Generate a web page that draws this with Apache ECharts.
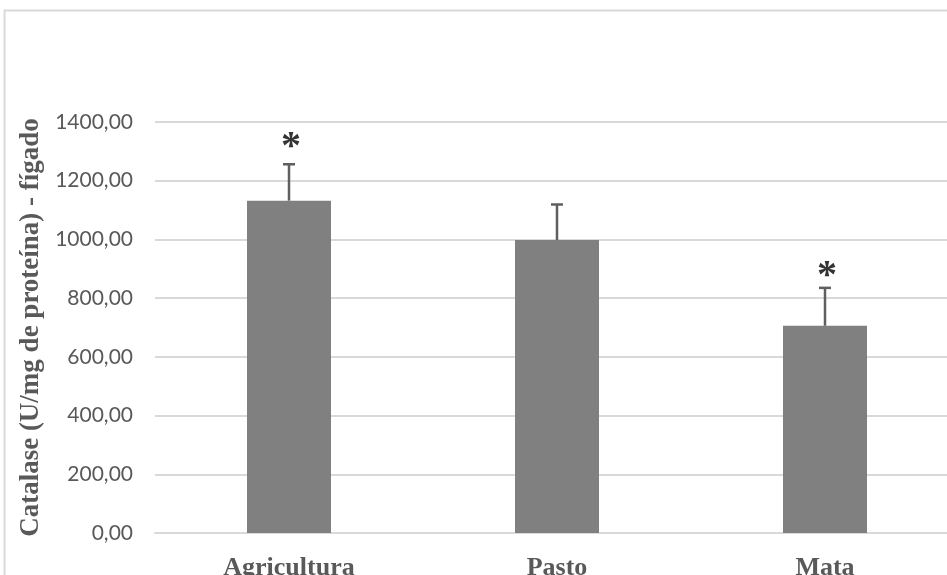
<!DOCTYPE html>
<html>
<head>
<meta charset="utf-8">
<script src="https://cdn.jsdelivr.net/npm/echarts@6/dist/echarts.min.js"></script>
<style>
html,body{margin:0;padding:0;background:#fff;}
#chart{width:947px;height:575px;}
</style>
</head>
<body>
<div id="chart"></div>
<script>
var categories = ['Agricultura', 'Pasto', 'Mata'];
var means = [1132, 998, 706];
var errors = [124, 121, 129];
var starLevels = [1337, null, 896];
var yTicks = [0, 200, 400, 600, 800, 1000, 1200, 1400];
var yTitle = 'Catalase (U/mg de proteína) - fígado';

var chart = echarts.init(document.getElementById('chart'), null, {renderer: 'canvas'});

var errData = categories.map(function (c, i) { return [i, means[i], means[i] + errors[i]]; });
var starData = categories.map(function (c, i) { return starLevels[i] == null ? null : [i, starLevels[i]]; }).filter(function (d) { return d; });

var option = {
  backgroundColor: '#ffffff',
  animation: false,
  graphic: [{
    type: 'rect',
    shape: {x: 4.5, y: 10.5, width: 980, height: 600},
    style: {fill: 'none', stroke: '#d9d9d9', lineWidth: 2},
    silent: true, z: -1
  }],
  grid: {left: 155, top: 122, width: 804, bottom: 42, containLabel: false, outerBoundsMode: 'none'},
  xAxis: {
    type: 'category',
    data: categories,
    axisLine: {show: true, lineStyle: {color: '#d9d9d9', width: 2}},
    axisTick: {show: false},
    axisLabel: {
      color: '#595959', fontFamily: 'Liberation Serif', fontWeight: 'bold', fontSize: 26,
      margin: 22
    }
  },
  yAxis: {
    type: 'value',
    min: yTicks[0], max: yTicks[yTicks.length - 1], interval: 200,
    name: yTitle,
    nameLocation: 'middle',
    nameGap: 107,
    nameRotate: 90,
    nameTextStyle: {color: '#595959', fontFamily: 'Liberation Serif', fontWeight: 'bold', fontSize: 27},
    axisLine: {show: false},
    axisTick: {show: false},
    splitLine: {lineStyle: {color: '#d9d9d9', width: 2}},
    axisLabel: {
      color: '#595959', fontFamily: 'Lato', fontSize: 21, margin: 22,
      formatter: function (v) { return v.toFixed(2).replace('.', ','); }
    }
  },
  series: [
    {
      type: 'bar',
      data: means,
      barWidth: 84,
      itemStyle: {color: '#808080'},
      z: 2
    },
    {
      type: 'custom',
      data: errData,
      z: 3,
      renderItem: function (params, api) {
        var x = api.value(0);
        var base = api.coord([x, api.value(1)]);
        var top = api.coord([x, api.value(2)]);
        var hw = 6;
        var st = {stroke: '#5f5f5f', lineWidth: 2.5};
        return {
          type: 'group',
          children: [
            {type: 'line', shape: {x1: base[0], y1: base[1], x2: top[0], y2: top[1]}, style: st},
            {type: 'line', shape: {x1: top[0] - hw, y1: top[1], x2: top[0] + hw, y2: top[1]}, style: st}
          ]
        };
      }
    },
    {
      type: 'scatter',
      data: starData,
      symbolSize: 0,
      z: 4,
      label: {
        show: true, position: 'inside', formatter: '*',
        color: '#000', fontFamily: 'Liberation Serif', fontWeight: 'bold', fontSize: 40,
        offset: [2, 7]
      }
    }
  ]
};
chart.setOption(option);
</script>
</body>
</html>
